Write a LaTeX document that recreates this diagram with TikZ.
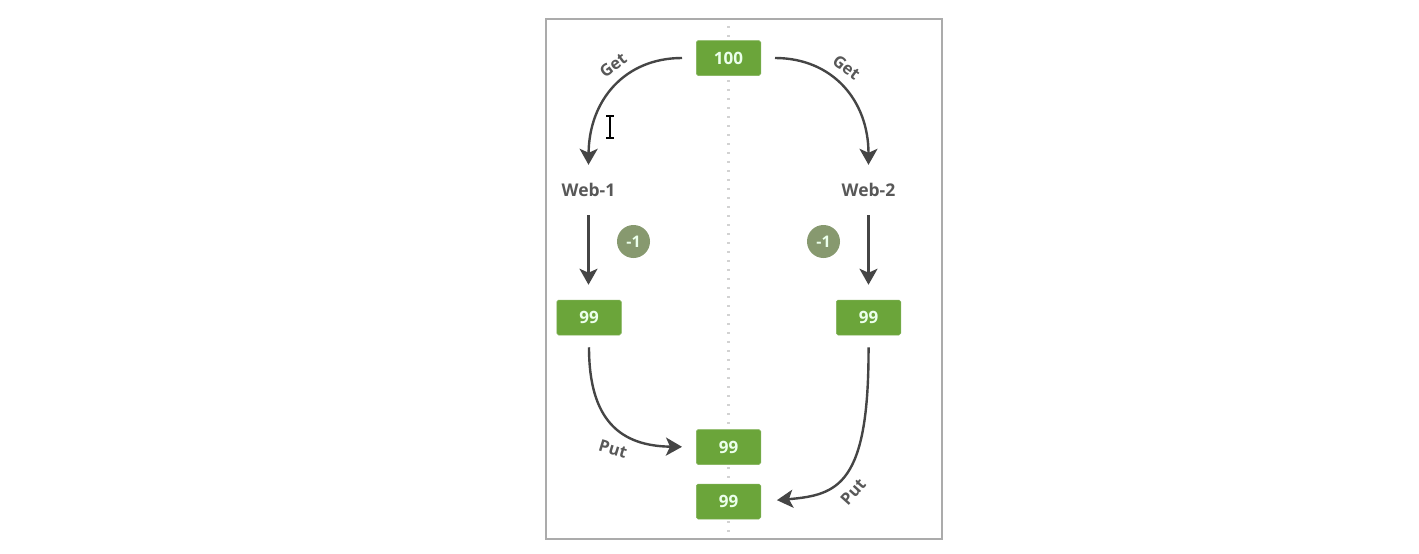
\documentclass[tikz,border=0pt]{standalone}
\usepackage{fontspec}
\setmainfont{Open Sans}
\usetikzlibrary{arrows.meta}
\definecolor{boxgreen}{HTML}{6BA53A}
\definecolor{badge}{HTML}{87996F}
\definecolor{ink}{HTML}{454545}
\definecolor{frame}{HTML}{ABABAB}
\definecolor{dots}{HTML}{D2D2D2}
\tikzset{
  valbox/.style={fill=boxgreen,draw=boxgreen!85!white,line width=0.5pt,rounded corners=1.8pt,minimum width=64.5pt,minimum height=35pt,inner sep=0pt,text=white!92!green,font=\bfseries\fontsize{17}{20}\selectfont},
  badgenode/.style={circle,fill=badge,minimum size=33pt,inner sep=0pt,text=white!92!green,font=\bfseries\fontsize{16}{18}\selectfont},
  webnode/.style={text=ink!90!white,font=\bfseries\fontsize{17.5}{20}\selectfont,inner sep=0pt,minimum width=54pt,minimum height=50pt},
  lbl/.style={text=ink!90!white,font=\bfseries\fontsize{16.5}{19}\selectfont,inner sep=0pt},
  flow/.style={draw=ink,line width=2.4pt,-{Stealth[length=16pt,width=18pt,inset=4pt]}},
}
\begin{document}
\begin{tikzpicture}[x=1pt,y=-1pt]
\useasboundingbox (0,0) rectangle (1419,554);
\fill[white] (0,0) rectangle (1419,554);
\node[draw=frame,line width=1.1pt,minimum width=396pt,minimum height=520pt,inner sep=0pt] (panel) at (744,279) {};
\coordinate (axt) at (728.5,26);
\coordinate (axb) at (728.5,535);
\draw[dots,line width=2.4pt,dash pattern=on 2.4pt off 6.6pt] (axt) -- (axb);
\node[valbox] (top) at (728.5,58) {100};
\node[webnode] (w1) at (588.5,190) {Web-1};
\node[webnode] (w2) at (868.5,190) {Web-2};
\node[valbox] (l) at (589,317.5) {99};
\node[valbox] (r) at (868.5,317.5) {99};
\node[valbox] (m1) at (728.5,447) {99};
\node[valbox] (m2) at (728.5,501.5) {99};
\node[badgenode] (b1) at (633.5,241.5) {-1};
\node[badgenode] (b2) at (823.5,241.5) {-1};
\node[lbl,rotate=37] (g1) at (613,65) {Get};
\node[lbl,rotate=-37] (g2) at (846.5,67) {Get};
\node[lbl,rotate=-17] (p1) at (613,449) {Put};
\node[lbl,rotate=48] (p2) at (853,492) {Put};
\draw[flow,shorten <=14pt] (top.west) .. controls (625,58) and (589,100) .. (w1.north);
\draw[flow,shorten <=14pt] (top.east) .. controls (832,58) and (868.5,100) .. (w2.north);
\draw[flow,shorten >=15pt] (w1.south) -- (w1.south |- l.north);
\draw[flow,shorten >=15pt] (w2.south) -- (r.north);
\draw[flow,shorten <=12pt,shorten >=14pt] (l.south) .. controls (589,420) and (620,446) .. (m1.west);
\draw[flow,shorten <=12pt,shorten >=16pt] (r.south) .. controls (869,485) and (838,495) .. (m2.east);
% I-beam cursor
\draw[black,line width=1.2pt] (610,117) -- (610,137);
\draw[black,line width=1.2pt] (606,116) -- (614,116) (606,138) -- (614,138);
\end{tikzpicture}
\end{document}
